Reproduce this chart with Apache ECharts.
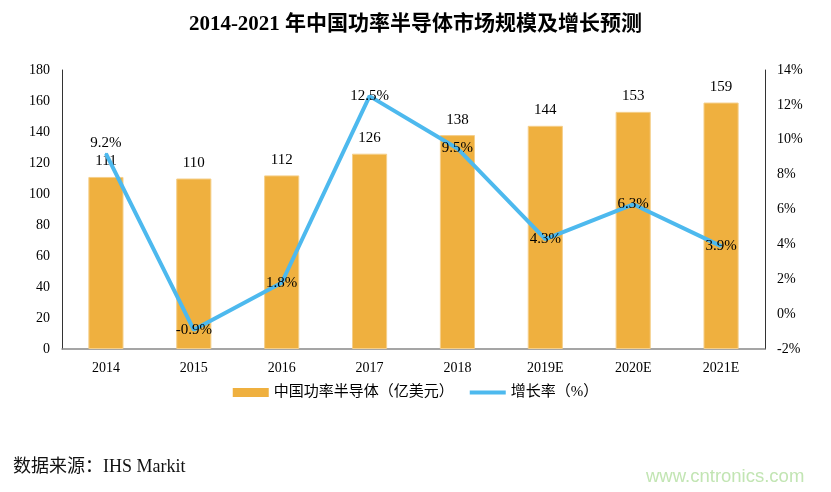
<!DOCTYPE html>
<html><head><meta charset="utf-8">
<script src="https://cdn.jsdelivr.net/npm/echarts@6/dist/echarts.min.js"></script>
<style>html,body{margin:0;padding:0;background:#fff}#c{width:831px;height:492px}</style>
</head><body><div id="c"></div>
<script>
const categories = ['2014','2015','2016','2017','2018','2019E','2020E','2021E'];
const marketSize = [111,110,112,126,138,144,153,159];
const growthRate = [9.2,-0.9,1.8,12.5,9.5,4.3,6.3,3.9];
const leftTicks = [0,20,40,60,80,100,120,140,160,180];
const rightTicks = [-2,0,2,4,6,8,10,12,14];

const FONT = '"Liberation Serif","Noto Sans CJK SC",serif';
const chart = echarts.init(document.getElementById('c'));
chart.setOption({
  animation:false,
  backgroundColor:'#fff',
  title:[{text:'2014-2021 年中国功率半导体市场规模及增长预测',left:'center',top:9,
    textStyle:{fontFamily:FONT,fontSize:21,fontWeight:'bold',color:'#000'}},
    {text:'数据来源：IHS Markit',left:8,top:453,textStyle:{fontFamily:FONT,fontSize:18,fontWeight:'normal',color:'#111'}},
    {text:'www.cntronics.com',left:641,top:462,textStyle:{fontFamily:'"Liberation Sans",sans-serif',fontSize:18.5,fontWeight:'normal',color:'#c2e5b3'}}],
  legend:{top:380,left:'center',itemGap:14,itemWidth:36,itemHeight:9,
    textStyle:{fontFamily:FONT,fontSize:15,color:'#000'},
    data:[{name:'中国功率半导体（亿美元）',icon:'rect',itemStyle:{borderWidth:0}},
          {name:'增长率（%）',itemStyle:{opacity:0},lineStyle:{width:4}}]},
  grid:{left:62,right:66,top:70,bottom:143},
  xAxis:{type:'category',data:categories,
    axisLine:{lineStyle:{color:'#888',width:1.5}},axisTick:{show:false},
    axisLabel:{fontFamily:FONT,fontSize:14,color:'#000',margin:12}},
  yAxis:[{type:'value',min:leftTicks[0],max:leftTicks[leftTicks.length-1],interval:20,
      axisLine:{show:true,lineStyle:{color:'#333'}},axisTick:{show:false},splitLine:{show:false},
      axisLabel:{fontFamily:FONT,fontSize:14,color:'#000',margin:12}},
    {type:'value',min:rightTicks[0],max:rightTicks[rightTicks.length-1],interval:2,
      axisLine:{show:true,lineStyle:{color:'#333'}},axisTick:{show:false},splitLine:{show:false},
      axisLabel:{fontFamily:FONT,fontSize:14,color:'#000',margin:12,formatter:v=>v+'%'}}],
  series:[
    {name:'中国功率半导体（亿美元）',type:'bar',data:marketSize,barWidth:'40%',
      itemStyle:{color:'#EFB03F',borderColor:'#F5CF8A',borderWidth:1},
      label:{show:true,position:'top',distance:8,fontFamily:FONT,fontSize:15,color:'#000'}},
    {name:'增长率（%）',type:'line',yAxisIndex:1,symbol:'circle',symbolSize:2,showSymbol:true,
      data:growthRate.map((v,i)=>i===0?{value:v,label:{position:'top',distance:2}}:v),
      lineStyle:{color:'#4DB9EE',width:4},itemStyle:{color:'#4DB9EE'},
      z:3,
      label:{show:true,position:'inside',fontFamily:FONT,fontSize:15,color:'#000',formatter:p=>p.value.toFixed(1)+'%'}}
  ]
});
</script></body></html>
